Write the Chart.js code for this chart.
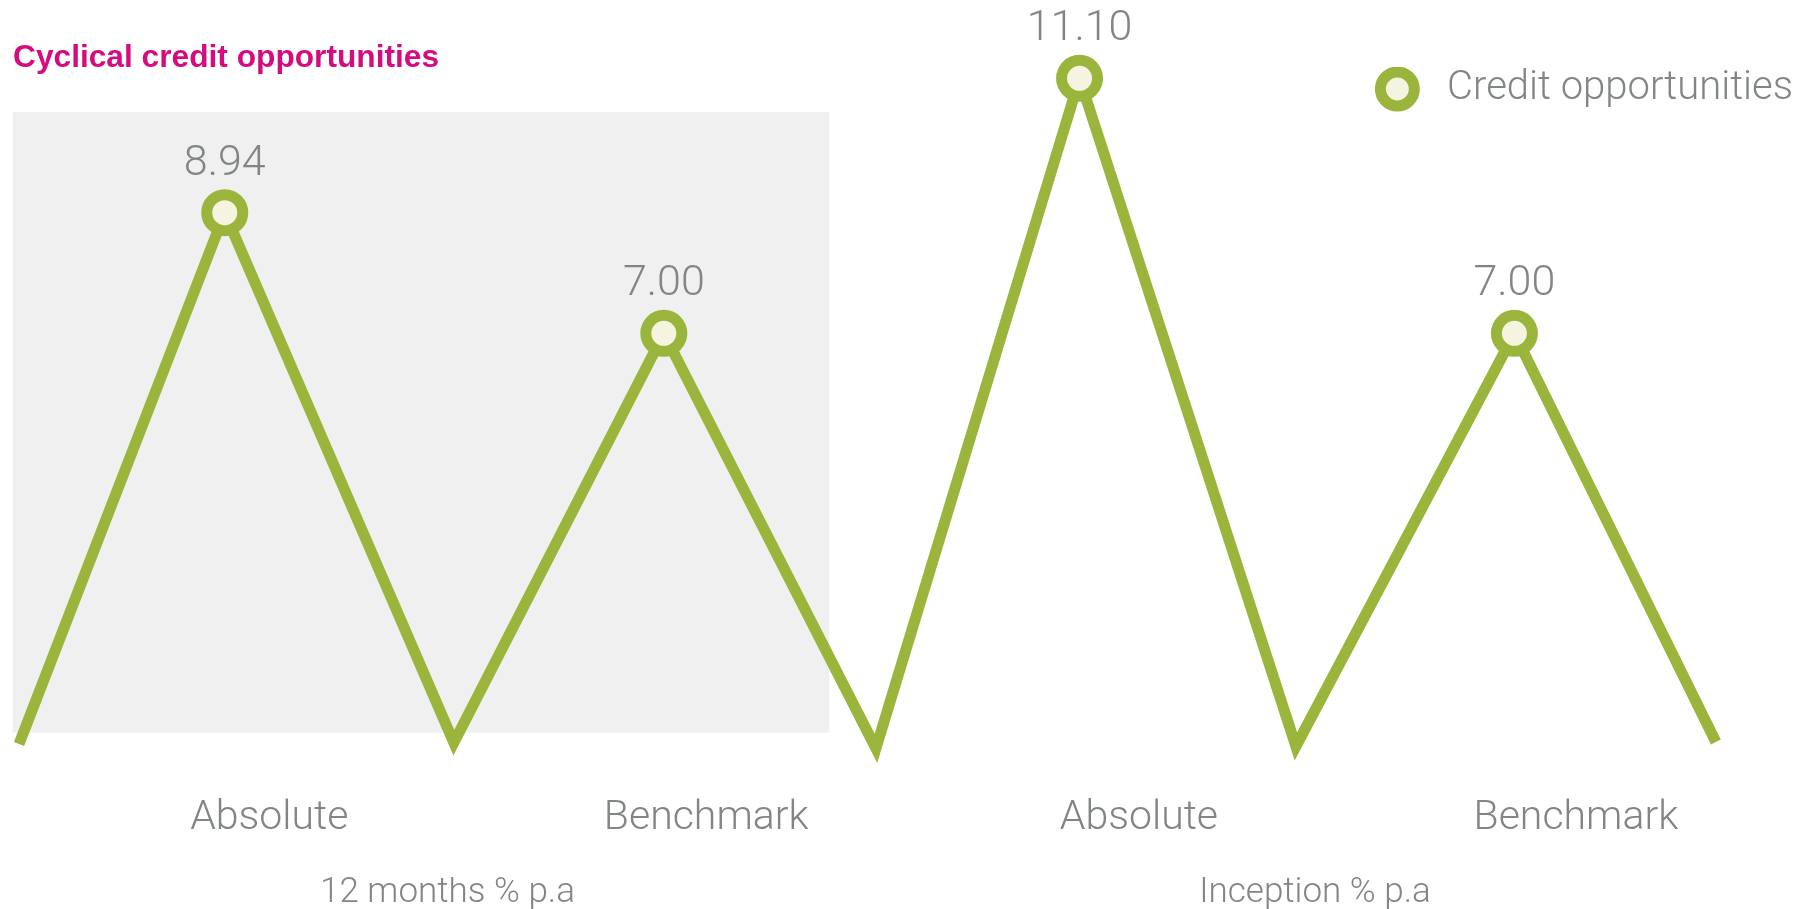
<!DOCTYPE html>
<html>
<head>
<meta charset="utf-8">
<title>Cyclical credit opportunities</title>
<script src="https://cdn.jsdelivr.net/npm/chart.js@4"></script>
<style>
  html, body { margin: 0; padding: 0; background: #fff; }
  #wrap { position: relative; width: 1805px; height: 909px; }
  #title {
    position: absolute; left: 13px; top: 41px;
    font: bold 31.7px/31px "Liberation Sans", Arial, sans-serif;
    color: #d40c7f; white-space: nowrap;
  }
</style>
</head>
<body>
<div id="wrap">
  <canvas id="chart"></canvas>
  <div id="title">Cyclical credit opportunities</div>
</div>
<script>
// values
const seriesName = 'Credit opportunities';
const pointX  = [0, 0.97, 2.05, 3.04, 4.04, 5.0, 6.02, 7.05, 8.0];
const returns = [0.40, 8.94, 0.42, 7.00, 0.33, 11.10, 0.36, 7.00, 0.43];
const categories = ['Absolute', 'Benchmark', 'Absolute', 'Benchmark'];
const categoryAt = [1.18, 3.24, 5.28, 7.34];
const periods = ['12 months % p.a', 'Inception % p.a'];
const periodAt = [2.02, 6.11];

// shaded block behind the 12 month pair (axis units)
const band = { xMin: -0.03, xMax: 3.82, yMin: 0.58, yMax: 10.56 };

const green = '#9bb53c';
const cream = '#f4f4e1';
const grey = '#828586';
const lightFont = 'Roboto';

const bandPlugin = {
  id: 'band',
  beforeDatasetsDraw(chart) {
    const { ctx, scales: { x, y } } = chart;
    const l = x.getPixelForValue(band.xMin), r = x.getPixelForValue(band.xMax);
    const t = y.getPixelForValue(band.yMax), b = y.getPixelForValue(band.yMin);
    ctx.save();
    ctx.fillStyle = '#eff0ef';
    ctx.fillRect(l, t, r - l, b - t);
    ctx.restore();
  }
};

const valueLabels = {
  id: 'valueLabels',
  afterDatasetsDraw(chart) {
    const { ctx } = chart;
    const meta = chart.getDatasetMeta(0);
    ctx.save();
    ctx.font = '300 43px ' + lightFont;
    ctx.fillStyle = grey;
    ctx.textAlign = 'center';
    ctx.textBaseline = 'alphabetic';
    meta.data.forEach((pt, i) => {
      if (returns[i] < 1) return;
      ctx.fillText(returns[i].toFixed(2), pt.x, pt.y - 38);
    });
    ctx.restore();
  }
};

// the legend sits over the top of the plot, so nudge it down after layout
const legendNudge = {
  id: 'legendNudge',
  afterLayout(chart) {
    if (!chart.legend) return;
    chart.legend.top += 22;
    chart.legend.bottom += 22;
  }
};

new Chart(document.getElementById('chart'), {
  type: 'line',
  data: {
    datasets: [{
      label: seriesName,
      data: pointX.map((x, i) => ({ x, y: returns[i] })),
      borderColor: green,
      borderWidth: 11,
      tension: 0,
      clip: false,
      pointRadius: ctx => (returns[ctx.dataIndex] > 1 ? 18 : 0),
      pointHoverRadius: ctx => (returns[ctx.dataIndex] > 1 ? 18 : 0),
      pointBorderWidth: 11,
      pointBorderColor: green,
      pointBackgroundColor: cream
    }]
  },
  options: {
    responsive: true,
    maintainAspectRatio: false,
    animation: false,
    layout: { padding: { top: 45, bottom: 0, left: 0, right: 10 } },
    plugins: {
      legend: {
        position: 'top',
        align: 'end',
        labels: {
          usePointStyle: true,
          boxHeight: 24,
          padding: 2,
          color: grey,
          font: { family: lightFont, weight: 300, size: 40 },
          generateLabels: chart => Chart.defaults.plugins.legend.labels.generateLabels(chart)
            .map(item => ({ ...item, text: ' ' + item.text }))
        }
      },
      tooltip: { enabled: false }
    },
    scales: {
      x: {
        type: 'linear',
        min: -0.0896,
        max: 8.373,
        weight: 0,
        grid: { display: false, drawTicks: false },
        border: { display: false },
        afterBuildTicks: axis => { axis.ticks = categoryAt.map(value => ({ value })); },
        ticks: {
          autoSkip: false,
          maxRotation: 0,
          minRotation: 0,
          padding: 33.8,
          color: grey,
          font: { family: lightFont, weight: 300, size: 41, lineHeight: 1.2 },
          callback: (value, index) => categories[index]
        }
      },
      x2: {
        type: 'linear',
        position: 'bottom',
        min: -0.0896,
        max: 8.373,
        weight: 1,
        grid: { display: false, drawTicks: false },
        border: { display: false },
        afterBuildTicks: axis => { axis.ticks = periodAt.map(value => ({ value })); },
        ticks: {
          autoSkip: false,
          maxRotation: 0,
          minRotation: 0,
          padding: 2,
          color: grey,
          font: { family: lightFont, weight: 300, size: 35, lineHeight: 0.8 },
          callback: (value, index) => periods[index]
        }
      },
      y: {
        display: false,
        min: 0.138,
        max: 10.80
      }
    }
  },
  plugins: [bandPlugin, valueLabels, legendNudge]
});
</script>
</body>
</html>
